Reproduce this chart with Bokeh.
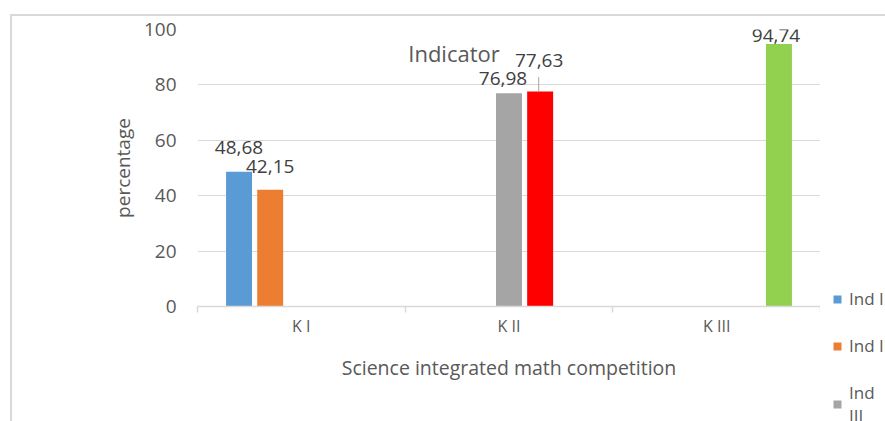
from bokeh.plotting import figure
from bokeh.layouts import row
from bokeh.models import (Range1d, LinearAxis, FixedTicker,
                          Legend, LegendItem, Label, ColumnDataSource)
from bokeh.transform import dodge
from bokeh.embed import file_html
from bokeh.resources import INLINE

categories = ["K I", "K II", "K III"]
series_names = ["Ind I", "Ind II", "Ind\nIII", "Ind IV", "Ind V"]
ind_1 = [48.68, 0, 0]
ind_2 = [42.15, 0, 0]
ind_3 = [0, 76.98, 0]
ind_4 = [0, 77.63, 0]
ind_5 = [0, 0, 94.74]
series_values = [ind_1, ind_2, ind_3, ind_4, ind_5]
y_ticks = [0, 20, 40, 60, 80, 100]
title_text = "Indicator"
x_title = "Science integrated math competition"
y_title = "percentage"

colors = ["#5B9BD5", "#ED7D31", "#A5A5A5", "#FF0000", "#92D050"]
offsets = [-0.3, -0.15, 0.0, 0.15, 0.3]
label_dx = [0, 0, -6, -1, -3]
label_dy = [-24, -23, -15, -31, -9]
FONT = "Open Sans"
GRID = "#d9d9d9"
TXT = "#595959"

n_cat = len(categories)
centers = [i + 0.5 for i in range(n_cat)]
edges = list(range(n_cat + 1))

p = figure(x_range=Range1d(0, n_cat), y_range=Range1d(0, 100), width=808, height=405,
           output_backend="svg", toolbar_location=None, x_axis_location=None,
           min_border_left=185, min_border_right=0, min_border_top=13, min_border_bottom=115)
p.outline_line_color = None
p.background_fill_color = "white"
p.border_fill_color = "white"
p.xgrid.visible = False
p.ygrid.ticker = FixedTicker(ticks=y_ticks)
p.ygrid.grid_line_color = GRID
p.ygrid.grid_line_width = 1

ya = p.yaxis[0]
ya.ticker = FixedTicker(ticks=y_ticks)
ya.axis_line_color = None
ya.major_tick_line_color = None
ya.minor_tick_line_color = None
ya.major_label_standoff = 15
ya.major_label_text_font = FONT
ya.major_label_text_font_size = "19px"
ya.major_label_text_color = TXT
ya.axis_label = y_title
ya.axis_label_text_font = FONT
ya.axis_label_text_font_size = "19px"
ya.axis_label_text_font_style = "normal"
ya.axis_label_text_color = TXT
ya.axis_label_standoff = 5

edge_axis = LinearAxis(ticker=FixedTicker(ticks=edges),
                       major_label_overrides={e: "" for e in edges},
                       axis_line_color=GRID, axis_line_width=1.5, major_tick_line_color=GRID,
                       major_tick_line_width=1.5, major_tick_in=0, major_tick_out=6,
                       minor_tick_line_color=None, major_label_text_font_size="1px",
                       major_label_standoff=0)
cat_axis = LinearAxis(ticker=FixedTicker(ticks=centers),
                      major_label_overrides={c: name for c, name in zip(centers, categories)},
                      axis_line_color=None, major_tick_line_color=None,
                      minor_tick_line_color=None, major_label_standoff=-4,
                      major_label_text_font=FONT, major_label_text_font_size="16px",
                      major_label_text_color=TXT, axis_label=x_title,
                      axis_label_text_font=FONT, axis_label_text_font_size="19.5px",
                      axis_label_text_font_style="normal", axis_label_text_color=TXT,
                      axis_label_standoff=14)
p.add_layout(edge_axis, "below")
p.add_layout(cat_axis, "below")

src = ColumnDataSource(dict(x=centers, **{f"s{i}": v for i, v in enumerate(series_values)}))
for i, vals in enumerate(series_values):
    p.vbar(x=dodge("x", offsets[i]), top=f"s{i}", width=0.125,
           source=src, fill_color=colors[i], line_color=None)
    xs = [c for c, v in zip(centers, vals) if v != 0]
    vs = [v for v in vals if v != 0]
    if xs:
        lsrc = ColumnDataSource(dict(x=xs, v=vs, t=[f"{v:.2f}".replace(".", ",") for v in vs]))
        p.text(x=dodge("x", offsets[i]), y="v", text="t", source=lsrc,
               text_align="center", text_baseline="middle", x_offset=label_dx[i], y_offset=label_dy[i],
               text_font={"value": FONT}, text_font_size="19px", text_color="#404040")

# leader line for the Ind IV label
lead_x = [c for c, v in zip(centers, ind_4) if v != 0]
lead_v = [v for v in ind_4 if v != 0]
lead_src = ColumnDataSource(dict(x=lead_x, y0=lead_v, y1=[v + 5.2 for v in lead_v]))
p.segment(x0=dodge("x", offsets[3] - 0.007), y0="y0",
          x1=dodge("x", offsets[3] - 0.007), y1="y1",
          source=lead_src, line_color="#a6a6a6", line_width=1)

p.add_layout(Label(x=256.5, y=254, x_units="screen", y_units="screen", text=title_text,
                   text_align="center", text_baseline="middle", text_font=FONT,
                   text_font_size="22px", text_color=TXT))

# legend panel (the chart's legend, cut off by the window edge like the reference)
pl = figure(x_range=Range1d(0, 1), y_range=Range1d(0, 1), width=65, height=405,
            output_backend="svg", toolbar_location=None, x_axis_location=None,
            y_axis_location=None, min_border=0)
pl.outline_line_color = None
pl.grid.visible = False
pl.border_fill_color = "white"
for fig in (p, pl):
    if "frame_align" in fig.properties():
        fig.frame_align = False
leg_src = ColumnDataSource(dict(x=[-5], top=[0]))
leg_renderers = [pl.vbar(x="x", top="top", width=0.1, source=leg_src, fill_color=c, line_color=None)
                 for c in colors]
legend = Legend(items=[LegendItem(label=n, renderers=[r]) for n, r in zip(series_names, leg_renderers)],
                location=(12, -100), orientation="vertical", padding=0, margin=0, spacing=24,
                glyph_width=10, glyph_height=10, label_standoff=7, label_height=20,
                label_text_font=FONT, label_text_font_size="17px", label_text_color=TXT,
                border_line_color=None, background_fill_alpha=0)
pl.add_layout(legend)

layout = row(p, pl, spacing=0,
             styles={"margin-left": "10px", "margin-top": "14px",
                     "border-top": "2px solid #d9d9d9", "border-left": "2px solid #d9d9d9"})

open("out.html", "w").write(file_html(layout, INLINE))
